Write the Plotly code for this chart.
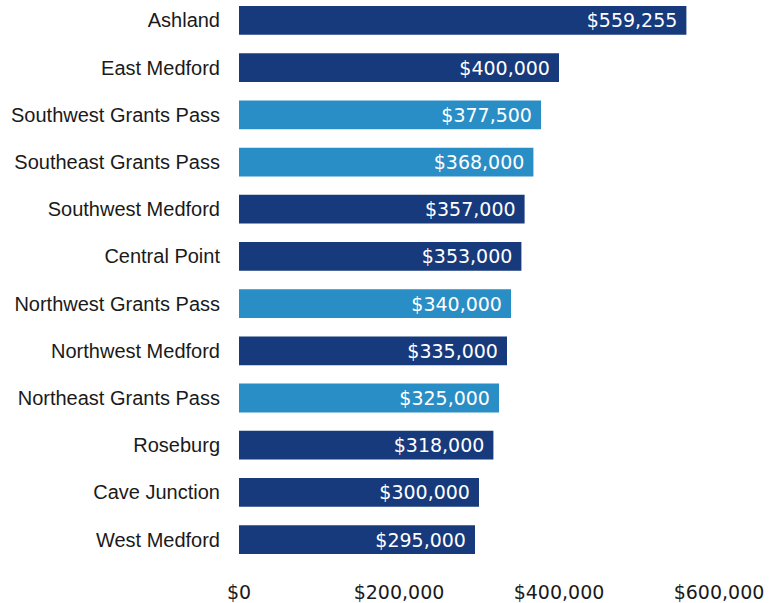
import plotly.graph_objects as go

# Median home sale price by neighborhood (top to bottom as listed)
areas = [
    "Ashland", "East Medford", "Southwest Grants Pass", "Southeast Grants Pass",
    "Southwest Medford", "Central Point", "Northwest Grants Pass", "Northwest Medford",
    "Northeast Grants Pass", "Roseburg", "Cave Junction", "West Medford",
]
prices = [559255, 400000, 377500, 368000, 357000, 353000, 340000, 335000,
          325000, 318000, 300000, 295000]
x_ticks = [0, 200000, 400000, 600000]
x_tick_labels = ["$0", "$200,000", "$400,000", "$600,000"]

DARK = "#173a7c"
LIGHT = "#2a8ec6"

# plotly stacks categories bottom-up, so feed the lists reversed
ys = areas[::-1]
xs = prices[::-1]
colors = [LIGHT if "Grants Pass" in a else DARK for a in ys]

fig = go.Figure(
    go.Bar(
        x=xs,
        y=ys,
        orientation="h",
        marker=dict(color=colors, line=dict(width=0)),
        texttemplate="$%{x:,.0f}&nbsp;",
        textposition="inside",
        insidetextanchor="end",
        textfont=dict(family="DejaVu Sans", size=19, color="white"),
        hoverinfo="skip",
    )
)

fig.update_layout(
    width=773,
    height=603,
    margin=dict(l=239, r=54, t=0, b=38),
    paper_bgcolor="white",
    plot_bgcolor="white",
    bargap=0.39,
    showlegend=False,
    xaxis=dict(
        range=[0, 600000],
        tickmode="array",
        tickvals=x_ticks,
        ticktext=x_tick_labels,
        showgrid=False,
        zeroline=False,
        showline=False,
        ticks="outside",
        ticklen=12,
        tickcolor="rgba(0,0,0,0)",
        tickfont=dict(family="DejaVu Sans", size=19, color="#1a1a1a"),
    ),
    yaxis=dict(
        type="category",
        range=[-0.496, 11.433],
        showgrid=False,
        zeroline=False,
        showline=False,
        ticks="outside",
        ticklen=14,
        tickcolor="rgba(0,0,0,0)",
        tickfont=dict(family="Liberation Sans", size=20, color="#1a1a1a"),
    ),
)

fig.write_html("out.html")
